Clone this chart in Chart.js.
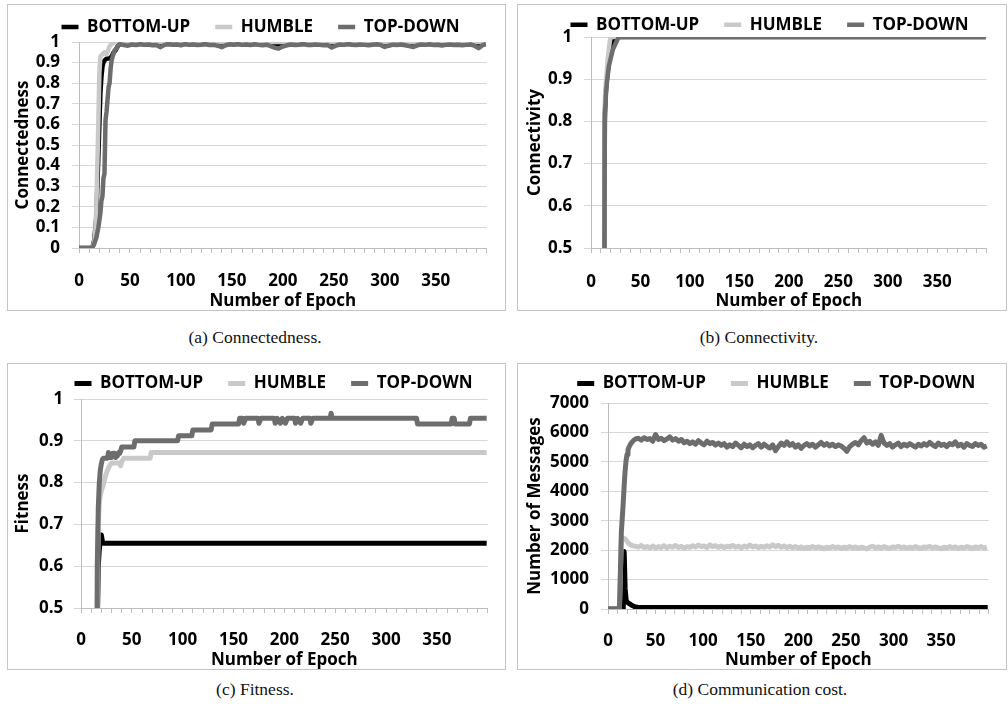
<!DOCTYPE html>
<html>
<head>
<meta charset="utf-8">
<script src="https://cdn.jsdelivr.net/npm/chart.js@4.4.0/dist/chart.umd.min.js"></script>
<style>
  html, body { margin: 0; padding: 0; background: #fff; }
  body { width: 1008px; height: 709px; position: relative; overflow: hidden; }
  .panel { position: absolute; border: 1px solid #c4c4c4; }
  .panel canvas { display: block; }
  .cap { position: absolute; font-family: 'Liberation Serif', serif; font-size: 17.5px; color: #111;
         transform: translate(-50%, -50%); white-space: nowrap; }
</style>
</head>
<body>
<div class="panel" style="left:7px;top:4px;width:497px;height:305px"><canvas id="ca"></canvas></div>
<div class="panel" style="left:517px;top:4px;width:488px;height:305px"><canvas id="cb"></canvas></div>
<div class="panel" style="left:7px;top:363px;width:497px;height:305px"><canvas id="cc"></canvas></div>
<div class="panel" style="left:517px;top:363px;width:488px;height:305px"><canvas id="cd"></canvas></div>
<div class="cap" style="left:255px;top:337px">(a) Connectedness.</div>
<div class="cap" style="left:759px;top:337px">(b) Connectivity.</div>
<div class="cap" style="left:255px;top:689px">(c) Fitness.</div>
<div class="cap" style="left:760px;top:689px">(d) Communication cost.</div>
<script>
// ---------- shared labels ----------
const seriesNames = ['BOTTOM-UP', 'HUMBLE', 'TOP-DOWN'];
const xLabelEpochs = [0, 50, 100, 150, 200, 250, 300, 350];
const xTitle = 'Number of Epoch';

// ---------- (a) Connectedness ----------
const aBottomUpEpoch = [0, 13, 15, 17, 19, 21, 22, 23, 24, 25, 27, 30, 32, 34, 36, 38, 40, 399];
const aBottomUpValue = [0, 0, 0.04, 0.15, 0.45, 0.75, 0.83, 0.88, 0.9, 0.91, 0.92, 0.92, 0.93, 0.95, 0.96, 0.98, 0.99, 0.99];
const aHumbleEpoch = [0, 13, 15, 16, 17, 18, 19, 20, 21, 23, 25, 27, 28, 30, 32, 35, 38, 399];
const aHumbleValue = [0, 0, 0.03, 0.08, 0.2, 0.4, 0.62, 0.85, 0.93, 0.94, 0.95, 0.94, 0.95, 0.98, 0.99, 1, 1, 1];
const aTopDownEpoch = [0, 13, 15, 17, 19, 21, 22, 23, 24, 25, 26, 27, 28, 29, 30, 31, 32, 33, 35, 37, 39,
  40, 44, 48, 52, 56, 60, 64, 68, 72, 76, 80, 84, 88, 92, 96, 100, 104, 108, 112, 116, 120, 124, 128, 132, 136,
  140, 144, 148, 152, 156, 160, 164, 168, 172, 176, 180, 184, 188, 192, 196, 200, 204, 208, 212, 216, 220, 224,
  228, 232, 236, 240, 244, 248, 252, 256, 260, 264, 268, 272, 276, 280, 284, 288, 292, 296, 300, 304, 308, 312,
  316, 320, 324, 328, 332, 336, 340, 344, 348, 352, 356, 360, 364, 368, 372, 376, 380, 384, 388, 392, 396, 399];
const aTopDownValue = [0, 0, 0.02, 0.05, 0.1, 0.17, 0.23, 0.25, 0.34, 0.36, 0.62, 0.66, 0.72, 0.78, 0.8, 0.87, 0.91, 0.93, 0.96, 0.97, 0.985,
  0.99, 0.985, 0.982, 0.988, 0.985, 0.99, 0.986, 0.988, 0.984, 0.985, 0.975, 0.986, 0.99, 0.987, 0.988, 0.984, 0.99, 0.986, 0.988, 0.985, 0.987, 0.99, 0.985, 0.986, 0.982,
  0.975, 0.984, 0.989, 0.987, 0.99, 0.986, 0.988, 0.985, 0.989, 0.986, 0.984, 0.987, 0.98, 0.972, 0.968, 0.978, 0.984, 0.988, 0.985, 0.987, 0.99, 0.986,
  0.985, 0.988, 0.986, 0.984, 0.985, 0.973, 0.982, 0.988, 0.986, 0.99, 0.987, 0.985, 0.988, 0.986, 0.984, 0.987, 0.989, 0.986, 0.976, 0.982, 0.987, 0.985,
  0.988, 0.984, 0.98, 0.976, 0.984, 0.988, 0.986, 0.989, 0.985, 0.987, 0.983, 0.986, 0.988, 0.985, 0.987, 0.984, 0.986, 0.988, 0.982, 0.97, 0.985, 0.99];

// ---------- (b) Connectivity ----------
const bBottomUpEpoch = [0, 13, 14, 15, 16, 17, 18, 19, 20, 21, 22, 23, 24, 399];
const bBottomUpValue = [0, 0, 0.82, 0.87, 0.9, 0.92, 0.94, 0.95, 0.96, 0.97, 0.98, 0.99, 1, 1];
const bHumbleEpoch = [0, 13, 14, 15, 16, 17, 18, 19, 20, 399];
const bHumbleValue = [0, 0, 0.85, 0.89, 0.92, 0.95, 0.97, 0.99, 1, 1];
const bTopDownEpoch = [0, 13, 14, 15, 16, 17, 18, 19, 20, 21, 22, 23, 24, 25, 26, 27, 28, 399];
const bTopDownValue = [0, 0, 0.8, 0.86, 0.89, 0.91, 0.93, 0.94, 0.95, 0.96, 0.97, 0.975, 0.98, 0.985, 0.99, 0.995, 1, 1];

// ---------- (c) Fitness ----------
const cBottomUpEpoch = [0, 15, 16, 17, 18, 19, 20, 21, 22, 399];
const cBottomUpValue = [0, 0, 0.45, 0.6, 0.64, 0.66, 0.675, 0.66, 0.655, 0.655];
const cHumbleEpoch = [0, 15, 16, 17, 18, 19, 20, 22, 24, 26, 28, 30, 38, 39, 40, 42, 68, 69, 399];
const cHumbleValue = [0, 0, 0.5, 0.7, 0.75, 0.77, 0.78, 0.795, 0.815, 0.83, 0.84, 0.847, 0.847, 0.84, 0.85, 0.858, 0.858, 0.872, 0.872];
const cTopDownEpoch = [0, 15, 16, 17, 18, 19, 20, 21, 22, 26, 27, 28, 30, 31, 33, 34, 36, 37, 38, 39, 40, 52, 53,
  95, 96, 109, 110, 128, 129, 155, 156, 159, 160, 162, 174, 175, 177, 190, 191, 193, 196, 198, 201, 203,
  210, 211, 213, 216, 218, 225, 226, 228, 245, 246, 247, 330, 331, 364, 365, 367, 368, 382, 383, 399];
const cTopDownValue = [0, 0, 0.6, 0.74, 0.8, 0.83, 0.845, 0.855, 0.858, 0.858, 0.872, 0.86, 0.86, 0.87, 0.87, 0.86, 0.865, 0.872, 0.87, 0.875, 0.885, 0.885, 0.9,
  0.9, 0.912, 0.912, 0.926, 0.926, 0.94, 0.94, 0.954, 0.954, 0.942, 0.954, 0.954, 0.942, 0.954, 0.954, 0.942, 0.954, 0.942, 0.954, 0.942, 0.954,
  0.954, 0.942, 0.954, 0.942, 0.954, 0.954, 0.942, 0.954, 0.954, 0.966, 0.954, 0.954, 0.94, 0.94, 0.954, 0.954, 0.94, 0.94, 0.954, 0.954];

// ---------- (d) Communication cost ----------
const dBottomUpEpoch = [0, 16, 17, 18, 19, 20, 22, 24, 26, 28, 31, 35, 399];
const dBottomUpValue = [0, 0, 1950, 700, 320, 240, 190, 150, 110, 80, 60, 50, 50];
const dHumbleEpoch = [0, 12, 13, 14, 16, 18, 20, 22, 24, 26,
  29, 32, 35, 38, 41, 44, 47, 50, 53, 56, 59, 62, 65, 68, 71, 74, 77, 80, 83, 86, 89, 92, 95, 98, 101, 104, 107, 110,
  113, 116, 119, 122, 125, 128, 131, 134, 137, 140, 143, 146, 149, 152, 155, 158, 161, 164, 167, 170, 173, 176, 179,
  182, 185, 188, 191, 194, 197, 200, 203, 206, 209, 212, 215, 218, 221, 224, 227, 230, 233, 236, 239, 242, 245, 248,
  251, 254, 257, 260, 263, 266, 269, 272, 275, 278, 281, 284, 287, 290, 293, 296, 299, 302, 305, 308, 311, 314, 317,
  320, 323, 326, 329, 332, 335, 338, 341, 344, 347, 350, 353, 356, 359, 362, 365, 368, 371, 374, 377, 380, 383, 386,
  389, 392, 395, 398];
const dHumbleValue = [0, 0, 1200, 2350, 2400, 2380, 2300, 2220, 2180, 2150,
  2130, 2100, 2160, 2090, 2120, 2080, 2140, 2070, 2120, 2090, 2150, 2080, 2130, 2100, 2160, 2090, 2130, 2070, 2120, 2100, 2150, 2110, 2170, 2120, 2140, 2090, 2180, 2120,
  2150, 2100, 2140, 2090, 2130, 2110, 2160, 2100, 2130, 2080, 2140, 2100, 2170, 2110, 2140, 2090, 2130, 2100, 2150, 2110, 2180, 2120, 2160,
  2100, 2140, 2090, 2130, 2080, 2120, 2070, 2110, 2060, 2100, 2080, 2120, 2070, 2110, 2090, 2050, 2100, 2070, 2120, 2080, 2110, 2060, 2100,
  2080, 2120, 2070, 2110, 2060, 2100, 2080, 2040, 2100, 2130, 2080, 2110, 2070, 2120, 2080, 2060, 2110, 2090, 2130, 2080, 2110, 2060, 2100,
  2070, 2120, 2080, 2060, 2110, 2090, 2130, 2070, 2110, 2080, 2050, 2100, 2070, 2120, 2080, 2110, 2060, 2100, 2070, 2120, 2090, 2050, 2110,
  2080, 2120, 2070, 2100];
const dTopDownEpoch = [0, 12, 13, 14, 15, 16, 17, 18, 19, 20, 21, 22, 24, 26, 28, 30,
  32, 35, 38, 41, 44, 47, 50, 53, 56, 59, 62, 65, 68, 71, 74, 77, 80, 83, 86, 89, 92, 95, 98, 101, 104, 107, 110,
  113, 116, 119, 122, 125, 128, 131, 134, 137, 140, 143, 146, 149, 152, 155, 158, 161, 164, 167, 170, 173, 176, 179,
  182, 185, 188, 191, 194, 197, 200, 203, 206, 209, 212, 215, 218, 221, 224, 227, 230, 233, 236, 239, 242, 245, 248,
  251, 254, 257, 260, 263, 266, 269, 272, 275, 278, 281, 284, 287, 290, 293, 296, 299, 302, 305, 308, 311, 314, 317,
  320, 323, 326, 329, 332, 335, 338, 341, 344, 347, 350, 353, 356, 359, 362, 365, 368, 371, 374, 377, 380, 383, 386,
  389, 392, 395, 398];
const dTopDownValue = [0, 0, 1200, 2600, 3100, 3600, 4200, 4700, 5050, 5250, 5400, 5500, 5620, 5700, 5760, 5790,
  5800, 5740, 5820, 5760, 5790, 5700, 5930, 5760, 5800, 5720, 5780, 5850, 5740, 5790, 5700, 5760, 5650, 5700, 5620, 5680, 5600, 5720, 5640, 5580, 5700, 5620, 5660,
  5570, 5640, 5560, 5620, 5500, 5580, 5520, 5640, 5560, 5480, 5600, 5520, 5580, 5480, 5560, 5620, 5500, 5600, 5530, 5470, 5580, 5380, 5520,
  5640, 5560, 5680, 5560, 5620, 5500, 5580, 5460, 5560, 5620, 5540, 5600, 5500, 5580, 5660, 5560, 5620, 5540, 5600, 5520, 5580, 5540, 5460,
  5360, 5520, 5600, 5660, 5580, 5720, 5820, 5640, 5700, 5600, 5680, 5560, 5900, 5640, 5560, 5620, 5500, 5580, 5640, 5520, 5600, 5540, 5620,
  5560, 5500, 5600, 5540, 5620, 5560, 5660, 5580, 5520, 5640, 5560, 5600, 5520, 5620, 5580, 5680, 5540, 5600, 5500, 5620, 5560, 5520, 5620,
  5560, 5600, 5500, 5540];

// ---------- styling ----------
const seriesColors = ['#000000', '#c9c9c9', '#6d6d6d'];
const drawOrder = [2, 1, 0]; // TOP-DOWN drawn on top
const FONT = "'Open Sans', 'Liberation Sans', sans-serif";

const legendPlace = {
  id: 'legendPlace',
  afterLayout(chart, args, opts) {
    const lg = chart.legend;
    if (!lg || opts.x === undefined) return;
    const p = lg.options.labels.padding;
    const w = lg.right - lg.left, h = lg.bottom - lg.top;
    lg.left = opts.x - p; lg.right = lg.left + w;
    lg.top = opts.y - p - 8.5; lg.bottom = lg.top + h;
  }
};

function pts(xs, ys) { return xs.map((x, i) => ({ x: x, y: ys[i] })); }
function fmtY(v) { return String(Number(v.toFixed(1))); }

function build(id, g) {
  const datasets = g.series.map((s, i) => ({
    label: seriesNames[i],
    data: pts(s[0], s[1]),
    borderColor: seriesColors[i],
    backgroundColor: seriesColors[i],
    borderWidth: g.lw,
    pointRadius: 0,
    pointStyle: 'line',
    tension: 0,
    fill: false,
    borderJoinStyle: 'round',
    order: drawOrder[i]
  }));
  const LEG_H = 17 + 25 + 10;
  return new Chart(document.getElementById(id), {
    type: 'line',
    data: { datasets },
    plugins: [legendPlace],
    options: {
      responsive: true,
      maintainAspectRatio: false,
      animation: false,
      devicePixelRatio: 1,
      layout: { padding: { left: 0, right: g.padRight, top: g.chartTop - LEG_H, bottom: 0 } },
      plugins: {
        legendPlace: { x: g.legX, y: g.legY },
        tooltip: { enabled: false },
        legend: {
          position: 'top',
          align: 'start',
          labels: {
            usePointStyle: true,
            pointStyleWidth: 17,
            padding: 25,
            color: '#000',
            font: { family: FONT, size: 17, weight: 'bold' },
            sort: (a, b) => a.datasetIndex - b.datasetIndex
          }
        }
      },
      scales: {
        x: {
          type: 'linear',
          min: 0, max: 400,
          afterFit: s => { s.height = g.xHeight; },
          grid: { display: true, drawOnChartArea: false, drawTicks: true, tickLength: 5, color: '#bdbdbd' },
          border: { display: true, color: '#bdbdbd', width: 1 },
          ticks: {
            stepSize: 10, autoSkip: false, maxRotation: 0, minRotation: 0,
            padding: g.xTickPad, color: '#000',
            font: { family: FONT, size: 17, weight: 'bold' },
            callback: v => xLabelEpochs.includes(v) ? String(v) : ''
          },
          title: { display: true, text: xTitle, color: '#000',
                   font: { family: FONT, size: 17, weight: 'bold' }, padding: { top: 0, bottom: -1.5 } }
        },
        y: {
          min: g.yMin, max: g.yMax,
          afterFit: s => { s.width = g.chartLeft; },
          grid: { color: '#d6d6d6', drawTicks: true, tickLength: 7 },
          border: { display: true, color: '#bdbdbd', width: 1 },
          ticks: { stepSize: g.yStep, autoSkip: false, padding: g.yTickPad, color: '#000',
                   font: { family: FONT, size: 17, weight: 'bold' }, callback: v => fmtY(v) },
          title: { display: true, text: g.yTitle, color: '#000',
                   font: { family: FONT, size: 17, weight: 'bold' }, padding: { top: g.yTitlePad, bottom: 0 } }
        }
      }
    }
  });
}

build('ca', {
  series: [[aBottomUpEpoch, aBottomUpValue], [aHumbleEpoch, aHumbleValue], [aTopDownEpoch, aTopDownValue]],
  lw: 4.5, yMin: 0, yMax: 1, yStep: 0.1, yTitle: 'Connectedness',
  chartLeft: 71, padRight: 16, chartTop: 37, xHeight: 62,
  legX: 53.5, legY: 22, xTickPad: 18.3, yTickPad: 12, yTitlePad: 5
});
build('cb', {
  series: [[bBottomUpEpoch, bBottomUpValue], [bHumbleEpoch, bHumbleValue], [bTopDownEpoch, bTopDownValue]],
  lw: 4.5, yMin: 0.5, yMax: 1, yStep: 0.1, yTitle: 'Connectivity',
  chartLeft: 73, padRight: 5, chartTop: 32, xHeight: 62,
  legX: 52.5, legY: 19.7, xTickPad: 19.3, yTickPad: 11.7, yTitlePad: 6.5
});
build('cc', {
  series: [[cBottomUpEpoch, cBottomUpValue], [cHumbleEpoch, cHumbleValue], [cTopDownEpoch, cTopDownValue]],
  lw: 5, yMin: 0.5, yMax: 1, yStep: 0.1, yTitle: 'Fitness',
  chartLeft: 73, padRight: 13, chartTop: 35, xHeight: 61,
  legX: 66.5, legY: 19.5, xTickPad: 17.3, yTickPad: 10.7, yTitlePad: 4.8
});
build('cd', {
  series: [[dBottomUpEpoch, dBottomUpValue], [dHumbleEpoch, dHumbleValue], [dTopDownEpoch, dTopDownValue]],
  lw: 5, yMin: 0, yMax: 7000, yStep: 1000, yTitle: 'Number of Messages',
  chartLeft: 90, padRight: 5, chartTop: 39, xHeight: 60,
  legX: 59.2, legY: 19.5, xTickPad: 17.3, yTickPad: 12, yTitlePad: 6.5
});
</script>
</body>
</html>
